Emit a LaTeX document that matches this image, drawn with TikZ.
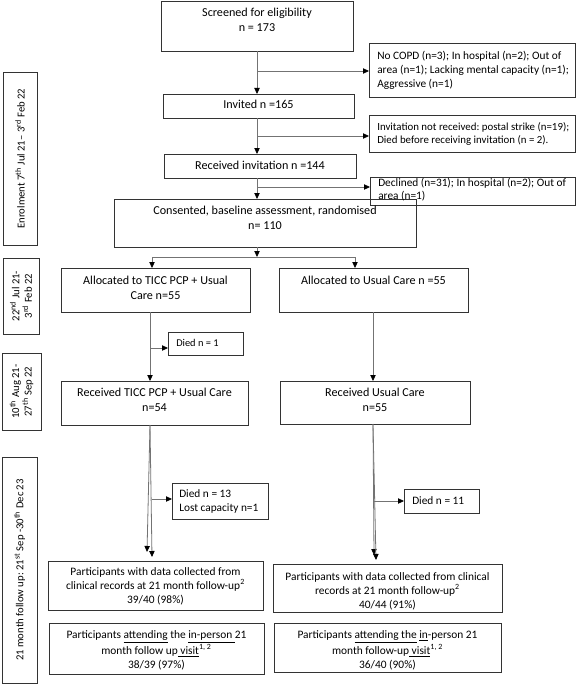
\documentclass[tikz,border=0pt]{standalone}
\usepackage{fontspec}
\setmainfont{Carlito}
\frenchspacing
\usetikzlibrary{arrows.meta,calc}
\tikzset{
  boxst/.style={draw=black!80, line width=0.6pt, inner sep=0pt, outer sep=0pt},
  conn/.style={draw=black!55, line width=0.6pt, -{Triangle[length=4.5pt,width=4pt,fill=black,color=black]}},
  plain/.style={draw=black!55, line width=0.6pt},
  mt/.style={inner sep=0pt, align=center, font=\fontsize{9.1}{11.4}\selectfont},
  bt/.style={inner sep=0pt, align=center, font=\fontsize{8.55}{10.5}\selectfont},
  st/.style={inner sep=0pt, align=left, font=\fontsize{8.5}{10.5}\selectfont},
  tt/.style={inner sep=0pt, align=center, rotate=90, font=\fontsize{8}{9.4}\selectfont}
}
\newcommand\bx[6]{\node[boxst,#6, minimum width={(#4-#2)*0.75pt}, minimum height={(#5-#3)*0.75pt}] (#1) at ({(#2+#4)/2},{(#3+#5)/2}) {};}
\begin{document}
\begin{tikzpicture}[x=0.75pt,y=-0.75pt]
\useasboundingbox (0,0) rectangle (576,685);
% boxes
\bx{A}{161}{1}{353}{51}{}
\bx{E1}{369}{43}{575}{97}{}
\bx{Inv}{163}{94}{354}{118}{}
\bx{E2}{369}{115}{575}{152}{}
\bx{Rinv}{164}{154}{356}{178}{}
\bx{E3}{370}{177}{575}{205}{}
\bx{Cons}{114}{199}{416}{247}{}
\bx{AlL}{61}{268}{250}{312}{}
\bx{AlR}{279}{268}{468}{312}{}
\bx{D1}{168}{332}{243}{355}{}
\bx{RcL}{61}{381}{248}{425}{}
\bx{RcR}{280}{381}{470}{424}{}
\bx{D13}{172}{483}{268}{519}{}
\bx{D11}{404}{489}{479}{513}{}
\bx{ClL}{48}{561}{263}{610}{}
\bx{ClR}{273}{564}{502}{612}{}
\bx{AtL}{49}{623}{264}{674}{}
\bx{AtR}{274}{623}{501}{672}{}
\bx{T1}{3}{72}{37}{245}{}
\bx{T2}{3}{258}{39}{334}{}
\bx{T3}{2}{353}{41}{430}{}
\bx{T4}{2}{457}{37}{683}{}
% texts
\node[mt,anchor=north] (At) at (257,8) {Screened for eligibility\\n = 173};
\node[mt,anchor=north] (Invt) at (258.5,100) {Invited n =165};
\node[mt,anchor=north] (Rinvt) at (260,161) {Received invitation n =144};
\node[mt,anchor=north] (Const) at (265,206) {Consented, baseline assessment, randomised\\n= 110};
\node[mt,anchor=north] (AlLt) at (155.5,276) {Allocated to TICC PCP + Usual\\Care n=55};
\node[mt,anchor=north] (AlRt) at (373.5,276) {Allocated to Usual Care n =55};
\node[mt,anchor=north] (RcLt) at (154.5,388) {Received TICC PCP + Usual Care\\n=54};
\node[mt,anchor=north] (RcRt) at (375,388) {Received Usual Care\\n=55};
\node[bt,anchor=north] (ClLt) at (155.5,567) {Participants with data collected from\\clinical records at 21 month follow-up\textsuperscript{2}\\39/40 (98\%)};
\node[bt,anchor=north] (ClRt) at (387.5,572) {Participants with data collected from clinical\\records at 21 month follow-up\textsuperscript{2}\\40/44 (91\%)};
\node[bt,anchor=north] (AtLt) at (156.5,630) {Participants \underline{attending} the \underline{in-person }21\\month follow up\underline{ visit}\textsuperscript{1, 2}\\38/39 (97\%)};
\node[bt,anchor=north] (AtRt) at (387.5,630) {Participants \underline{attending the} \underline{in}-person 21\\month follow-up\underline{ visit}\textsuperscript{1, 2}\\36/40 (90\%)};
\node[st,anchor=north west] (E1t) at (377,51) {No COPD (n=3); In hospital (n=2); Out of\\area (n=1); Lacking mental capacity (n=1);\\Aggressive (n=1)};
\node[st,anchor=north west,font=\fontsize{8.15}{10.2}\selectfont] (E2t) at (377,122) {Invitation not received: postal strike (n=19);\\Died before receiving invitation (n = 2).};
\node[st,anchor=north west,font=\fontsize{8.5}{10}\selectfont] (E3t) at (378,178) {Declined (n=31); In hospital (n=2); Out of\\area (n=1)};
\node[st,anchor=north west,font=\fontsize{7.8}{9}\selectfont] (D1t) at (176,339) {Died n = 1};
\node[st,anchor=north west] (D13t) at (179,489.5) {Died n = 13\\Lost capacity n=1};
\node[st,anchor=north west] (D11t) at (412,496.5) {Died n = 11};
\node[tt] (T1t) at (T1) {Enrolment 7\textsuperscript{th} Jul 21-- 3\textsuperscript{rd} Feb 22};
\node[tt] (T2t) at (T2) {22\textsuperscript{nd} Jul 21-\\3\textsuperscript{rd} Feb 22};
\node[tt] (T3t) at (T3) {10\textsuperscript{th} Aug 21-\\27\textsuperscript{th} Sep 22};
\node[tt] (T4t) at (T4) {21 month follow up: 21\textsuperscript{st} Sep -30\textsuperscript{th} Dec 23};
% junction coordinates
\coordinate (j1) at (257,71);
\coordinate (j2) at (257,136);
\coordinate (j3) at (257,187);
\coordinate (sp) at (257,257);
\coordinate (sL) at (152,257);
\coordinate (sR) at (355,257);
\coordinate (jd1) at (150,348);
\coordinate (jd13) at (152,499);
\coordinate (jd11) at (374,501);
\coordinate (eL1) at (147,552);
\coordinate (eL2) at (152,557);
\coordinate (eR1) at (374,555);
\coordinate (eR2) at (376,560);
% connectors
\draw[conn] (A.south) -- (A.south |- Inv.north);
\draw[conn] (j1) -- (j1 -| E1.west);
\draw[conn] (A.south |- Inv.south) -- (A.south |- Rinv.north);
\draw[conn] (j2) -- (j2 -| E2.west);
\draw[conn] (A.south |- Rinv.south) -- (A.south |- Cons.north);
\draw[conn] (j3) -- (j3 -| E3.west);
\draw[conn] (A.south |- Cons.south) -- (sp);
\draw[plain] (sL) -- (sR);
\draw[conn] (sL) -- (sL |- AlL.north);
\draw[conn] (sR) -- (sR |- AlR.north);
\draw[conn] (jd1 |- AlL.south) -- (jd1 |- RcL.north);
\draw[conn] (jd1) -- (jd1 -| D1.west);
\draw[conn] (373,312) -- (373,381);
\draw[conn] (jd1 |- RcL.south) -- (eL1);
\draw[conn] (jd1 |- RcL.south) -- (eL2);
\draw[conn] (jd13) -- (jd13 -| D13.west);
\draw[conn] (373,424) -- (eR1);
\draw[conn] (373,424) -- (eR2);
\draw[conn] (jd11) -- (jd11 -| D11.west);
\end{tikzpicture}
\end{document}
